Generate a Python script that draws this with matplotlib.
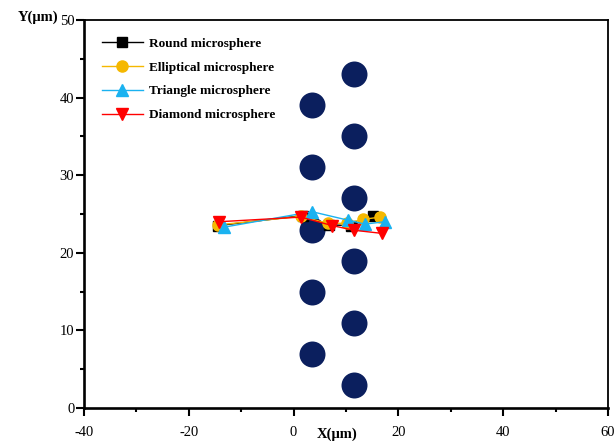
import matplotlib
matplotlib.use('Agg')
import matplotlib.pyplot as plt
from matplotlib.ticker import MultipleLocator

# microsphere array positions (um)
col_left_x = 3.5
col_left_y = [39, 31, 23, 15, 7]
col_right_x = 11.5
col_right_y = [43, 35, 27, 19, 11, 3]

# trajectories of each particle shape
round_x = [-14.5, 1.8, 6.8, 11.0, 15.2]
round_y = [23.5, 24.8, 23.6, 23.5, 24.7]
ellip_x = [-14.4, 1.5, 6.5, 10.2, 13.2, 16.5]
ellip_y = [23.6, 24.7, 23.8, 23.8, 24.3, 24.6]
tri_x = [-13.3, 3.5, 10.4, 13.6, 17.4]
tri_y = [23.3, 25.3, 24.2, 23.7, 24.0]
diam_x = [-14.3, 1.4, 7.4, 11.6, 16.9]
diam_y = [24.0, 24.6, 23.5, 22.9, 22.5]

plt.rcParams['font.family'] = ['Liberation Serif', 'DejaVu Serif']
plt.rcParams['axes.unicode_minus'] = False

fig = plt.figure(figsize=(6.16, 4.41), dpi=100)
ax = fig.add_axes([84 / 616, 1 - 408 / 441, 524 / 616, 388 / 441])

# microsphere posts
ax.scatter([col_left_x] * len(col_left_y), col_left_y, s=350, color='#0b1f5e',
           linewidths=0, zorder=1)
ax.scatter([col_right_x] * len(col_right_y), col_right_y, s=350, color='#0b1f5e',
           linewidths=0, zorder=1)

ax.plot(round_x, round_y, color='black', lw=1, marker='s', ms=7,
        label='Round microsphere', zorder=3)
ax.plot(ellip_x, ellip_y, color='#f5b800', lw=1, marker='o', ms=8,
        label='Elliptical microsphere', zorder=3)
ax.plot(tri_x, tri_y, color='#1ab2f0', lw=1, marker='^', ms=9,
        label='Triangle microsphere', zorder=4)
ax.plot(diam_x, diam_y, color='#ff0000', lw=1, marker='v', ms=9,
        label='Diamond microsphere', zorder=4)

ax.set_xlim(-40, 60)
ax.set_ylim(0, 50)
ax.xaxis.set_major_locator(MultipleLocator(20))
ax.xaxis.set_minor_locator(MultipleLocator(10))
ax.yaxis.set_major_locator(MultipleLocator(10))
ax.yaxis.set_minor_locator(MultipleLocator(5))
ax.tick_params(which='major', direction='out', length=6, width=1.5,
               labelsize=10.5, pad=1, top=False, right=False)
ax.tick_params(axis='x', which='major', pad=7)
ax.tick_params(which='minor', direction='out', length=3, width=1.5,
               top=False, right=False)

for side in ['left', 'bottom']:
    ax.spines[side].set_linewidth(1.9)
for side in ['top', 'right']:
    ax.spines[side].set_linewidth(1.3)

leg = ax.legend(loc='upper left', bbox_to_anchor=(0.034, 0.955), frameon=False,
                borderpad=0, borderaxespad=0, handlelength=3.1,
                handletextpad=0.45, labelspacing=0.88,
                prop={'weight': 'bold', 'size': 9.5})

fig.text(38 / 616, 1 - 17 / 441, 'Y(μm)', ha='center', va='center',
         fontsize=10.5, fontweight='bold')
fig.text(337 / 616, 1 - 434 / 441, 'X(μm)', ha='center', va='center',
         fontsize=10.5, fontweight='bold')

fig.savefig('out.png', dpi=100)
